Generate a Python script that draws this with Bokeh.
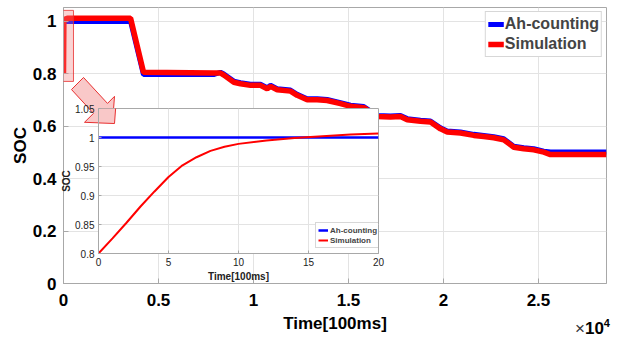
from bokeh.plotting import figure
from bokeh.models import FixedTicker, Legend, LegendItem, BoxAnnotation, Div
from bokeh.embed import file_html
from bokeh.resources import INLINE

FONT = "Liberation Sans"

# ---------------- data (time in units of 100 ms) ----------------
ah_t = [0, 3530, 4210, 7900, 8260, 8440, 8965, 9316, 9842, 10368, 10720, 10895,
        11247, 11947, 12300, 12826, 13352, 13878, 14580, 15105, 15805, 16510,
        17210, 17737, 18090, 18790, 19316, 19842, 20195, 20895, 21596, 22122,
        22648, 23173, 23700, 24226, 24752, 25280, 25630, 28580]
ah_soc = [1.000, 1.000, 0.797, 0.797, 0.806, 0.799, 0.772, 0.766, 0.760, 0.760,
          0.747, 0.756, 0.743, 0.738, 0.722, 0.705, 0.705, 0.702, 0.690, 0.680,
          0.675, 0.641, 0.639, 0.641, 0.629, 0.623, 0.620, 0.594, 0.582, 0.578,
          0.569, 0.565, 0.560, 0.552, 0.524, 0.518, 0.514, 0.505, 0.502, 0.502]

sim_t = [0, 20, 200, 3530, 4210, 7900, 8260, 8440, 8965, 9316, 9842, 10368,
         10720, 10895, 11247, 11947, 12300, 12826, 13352, 13878, 14580, 15105,
         15805, 16510, 17210, 17737, 18090, 18790, 19316, 19842, 20195, 20895,
         21596, 22122, 22648, 23173, 23700, 24226, 24752, 25280, 25630, 28580]
sim_soc = [0.800, 1.007, 1.012, 1.012, 0.806, 0.803, 0.803, 0.795, 0.768, 0.762,
           0.756, 0.756, 0.743, 0.752, 0.739, 0.734, 0.718, 0.701, 0.701, 0.698,
           0.686, 0.676, 0.671, 0.637, 0.635, 0.637, 0.625, 0.619, 0.616, 0.590,
           0.578, 0.574, 0.565, 0.561, 0.556, 0.548, 0.520, 0.514, 0.510, 0.501,
           0.492, 0.492]

# zoomed inset (first 20 samples)
in_ah_t = [0, 20]
in_ah_soc = [1.0, 1.0]
in_sim_t = [0, 1, 2, 3, 4, 5, 6, 7, 8, 9, 10, 12, 14, 16, 18, 20]
in_sim_soc = [0.800, 0.826, 0.853, 0.881, 0.907, 0.932, 0.952, 0.966, 0.977,
              0.984, 0.989, 0.995, 0.999, 1.002, 1.005, 1.007]

x_ticks = [0, 5000, 10000, 15000, 20000, 25000]
x_labels = ["0", "0.5", "1", "1.5", "2", "2.5"]
y_ticks = [0, 0.2, 0.4, 0.6, 0.8, 1.0]
y_labels = ["0", "0.2", "0.4", "0.6", "0.8", "1"]
in_x_ticks = [0, 5, 10, 15, 20]
in_x_labels = ["0", "5", "10", "15", "20"]
in_y_ticks = [0.8, 0.85, 0.9, 0.95, 1.0, 1.05]
in_y_labels = ["0.8", "0.85", "0.9", "0.95", "1", "1.05"]

# zoom marker (highlight box and arrow), main-axes data coordinates
zoom_box = dict(left=-263, right=526, bottom=0.771, top=1.042)
arrow_t = [1053, 2316, 2684, 2579, 1105, 1579, 421]
arrow_v = [0.786, 0.687, 0.714, 0.611, 0.615, 0.649, 0.740]
# same arrow in inset data coordinates
arrow_in_t = [-0.93, 0.786, 1.286, 1.143, -0.857, -0.214, -1.786]
arrow_in_v = [1.103, 1.0586, 1.0707, 1.0241, 1.0259, 1.0414, 1.0828]

GRID = "#e3e3e3"
AX = "#a8a8a8"

# ---------------- main figure ----------------
p = figure(frame_width=543, frame_height=276, x_range=(0, 28580), y_range=(0, 1.053),
           output_backend="svg", toolbar_location=None,
           min_border_left=63, min_border_right=10, min_border_top=7, min_border_bottom=55)
p.outline_line_color = AX
p.background_fill_color = "white"

p.xaxis.ticker = FixedTicker(ticks=x_ticks)
p.xgrid.ticker = FixedTicker(ticks=x_ticks)
p.xaxis.major_label_overrides = dict(zip(x_ticks, x_labels))
p.yaxis.ticker = FixedTicker(ticks=y_ticks)
p.ygrid.ticker = FixedTicker(ticks=y_ticks)
p.yaxis.major_label_overrides = dict(zip(y_ticks, y_labels))
for ax in (p.xaxis[0], p.yaxis[0]):
    ax.axis_line_color = AX
    ax.major_tick_line_color = AX
    ax.major_tick_in = 5
    ax.major_tick_out = 0
    ax.minor_tick_line_color = None
    ax.major_label_text_font = FONT
    ax.major_label_text_font_style = "bold"
    ax.major_label_text_font_size = "17px"
    ax.major_label_text_color = "black"
    ax.axis_label_text_font = FONT
    ax.axis_label_text_font_style = "bold"
    ax.axis_label_text_font_size = "17px"
    ax.axis_label_text_color = "black"
p.xaxis.axis_label = "Time[100ms]"
p.yaxis.axis_label = "SOC"
p.xaxis.major_label_standoff = 10
p.xaxis.axis_label_standoff = 5
p.yaxis.major_label_standoff = 7
p.yaxis.axis_label_standoff = 0
p.xgrid.grid_line_color = GRID
p.ygrid.grid_line_color = GRID

r_ah = p.line(ah_t, ah_soc, line_color="#0000ff", line_width=5)
r_sim = p.line(sim_t, sim_soc, line_color="#ff0000", line_width=5.5)

p.add_layout(BoxAnnotation(left=zoom_box["left"], right=zoom_box["right"],
                           bottom=zoom_box["bottom"], top=zoom_box["top"],
                           fill_color="#f08080", fill_alpha=0.35,
                           line_color="#e83030", line_width=1, line_alpha=0.8))
p.patch(arrow_t, arrow_v, fill_color="#f49a9a", fill_alpha=0.55,
        line_color="#e83030", line_width=1)

leg = Legend(items=[LegendItem(label="Ah-counting", renderers=[r_ah]),
                    LegendItem(label="Simulation", renderers=[r_sim])],
             location="top_right", margin=4, padding=2, spacing=0,
             glyph_width=16, glyph_height=20, label_height=20, label_standoff=1,
             label_text_font=FONT, label_text_font_style="bold",
             label_text_font_size="16px", border_line_color="#b0b0b0",
             background_fill_alpha=1)
p.add_layout(leg)

# ---------------- inset ----------------
ins = figure(frame_width=280, frame_height=145, x_range=(0, 20), y_range=(0.8, 1.05),
             output_backend="svg", toolbar_location=None,
             min_border_left=38, min_border_right=8, min_border_top=8, min_border_bottom=31,
             border_fill_alpha=0, background_fill_color="white",
             styles={"position": "absolute", "left": "58px", "top": "100px"})
ins.outline_line_color = AX
ins.xaxis.ticker = FixedTicker(ticks=in_x_ticks)
ins.xgrid.ticker = FixedTicker(ticks=in_x_ticks)
ins.xaxis.major_label_overrides = dict(zip(in_x_ticks, in_x_labels))
ins.yaxis.ticker = FixedTicker(ticks=in_y_ticks)
ins.ygrid.ticker = FixedTicker(ticks=in_y_ticks)
ins.yaxis.major_label_overrides = dict(zip(in_y_ticks, in_y_labels))
for ax in (ins.xaxis[0], ins.yaxis[0]):
    ax.axis_line_color = AX
    ax.major_tick_line_color = AX
    ax.major_tick_in = 3
    ax.major_tick_out = 0
    ax.minor_tick_line_color = None
    ax.major_label_text_font = FONT
    ax.major_label_text_font_size = "10px"
    ax.major_label_text_color = "#222222"
    ax.axis_label_text_font = FONT
    ax.axis_label_text_font_style = "bold"
    ax.axis_label_text_font_size = "10px"
    ax.axis_label_text_color = "#222222"
ins.xaxis.axis_label = "Time[100ms]"
ins.yaxis.axis_label = "SOC"
ins.xaxis.major_label_standoff = 4
ins.xaxis.axis_label_standoff = 2
ins.yaxis.major_label_standoff = 4
ins.yaxis.axis_label_standoff = 0
ins.xgrid.grid_line_color = GRID
ins.ygrid.grid_line_color = GRID

ri_ah = ins.line(in_ah_t, in_ah_soc, line_color="#0000ff", line_width=2.5)
ri_sim = ins.line(in_sim_t, in_sim_soc, line_color="#ff0000", line_width=2)
ins.patch(arrow_in_t, arrow_in_v, fill_color="#f49a9a", fill_alpha=0.55,
          line_color="#e83030", line_width=1)

ileg = Legend(items=[LegendItem(label="Ah-counting", renderers=[ri_ah]),
                     LegendItem(label="Simulation", renderers=[ri_sim])],
              location=(217, 5), margin=0, padding=2, spacing=0,
              glyph_width=10, glyph_height=10, label_height=10, label_standoff=2,
              label_text_font=FONT, label_text_font_style="bold",
              label_text_font_size="8px", border_line_color="#b0b0b0")
ins.add_layout(ileg)

# axis multiplier of the main x axis
mult = Div(text='<span style="font-weight:normal;color:#333">&times;</span>'
                '<b>10<sup style="font-size:11px">4</sup></b>',
           width=50, height=26,
           styles={"position": "absolute", "left": "570px", "top": "308px",
                   "font-family": FONT, "font-size": "17px", "color": "black",
                   "line-height": "20px"})

open("out.html", "w").write(file_html([p, ins, mult], INLINE))
